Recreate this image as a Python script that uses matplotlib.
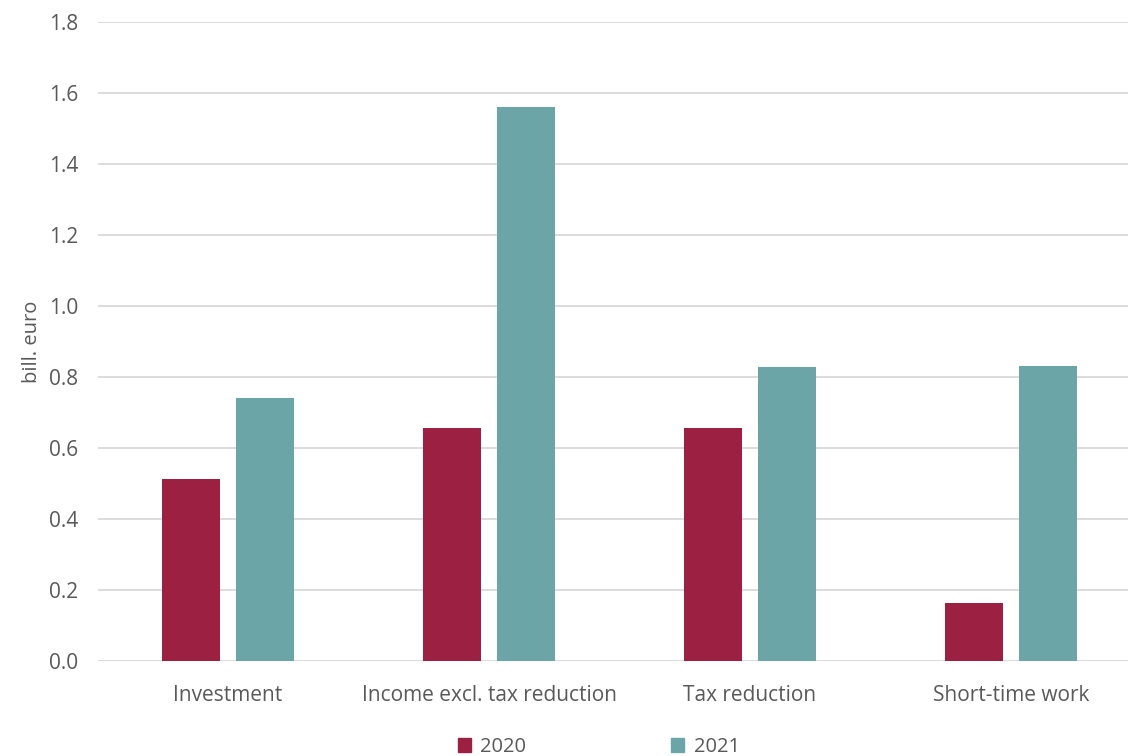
import numpy as np
import matplotlib.pyplot as plt
from matplotlib.patches import Patch

categories = ["Investment", "Income excl. tax reduction", "Tax reduction", "Short-time work"]
vals_2020 = [0.513, 0.656, 0.656, 0.163]
vals_2021 = [0.741, 1.561, 0.828, 0.831]
yticks = [0.0, 0.2, 0.4, 0.6, 0.8, 1.0, 1.2, 1.4, 1.6, 1.8]

C2020 = "#9B2042"
C2021 = "#6BA5A7"
TXT = "#595959"

plt.rcParams["font.family"] = ["Open Sans", "DejaVu Sans"]

fig = plt.figure(figsize=(11.28, 7.56), dpi=100)
ax = fig.add_axes([0.0865, 0.1257, 0.9255, 0.8452])

x = np.arange(len(categories))
w = 0.222
gap = 0.061
ax.bar(x - (w + gap) / 2, vals_2020, width=w, color=C2020, zorder=3)
ax.bar(x + (w + gap) / 2, vals_2021, width=w, color=C2021, zorder=3)

ax.set_xlim(-0.5, len(categories) - 0.5)
ax.set_ylim(0, 1.8)
ax.set_yticks(yticks)
ax.set_yticklabels([f"{v:.1f}" for v in yticks])
ax.set_xticks(x)
ax.set_xticklabels(categories)
ax.yaxis.grid(True, color="#D9D9D9", lw=1.3, zorder=0)
ax.tick_params(axis="both", length=0, labelsize=15, colors=TXT)
ax.tick_params(axis="y", pad=14)
ax.tick_params(axis="x", pad=17)
for s in ax.spines.values():
    s.set_visible(False)
ax.set_ylabel("bill. euro", fontsize=14.5, color=TXT, labelpad=5)

handles = [Patch(color=C2020, label="2020"), Patch(color=C2021, label="2021")]
fig.legend(handles=handles, loc="center", bbox_to_anchor=(0.531, 0.012), ncol=2,
           frameon=False, fontsize=14.5, labelcolor=TXT, handlelength=0.65,
           handleheight=0.65, handletextpad=0.45, columnspacing=7.2)

fig.savefig("out.png", dpi=100)
